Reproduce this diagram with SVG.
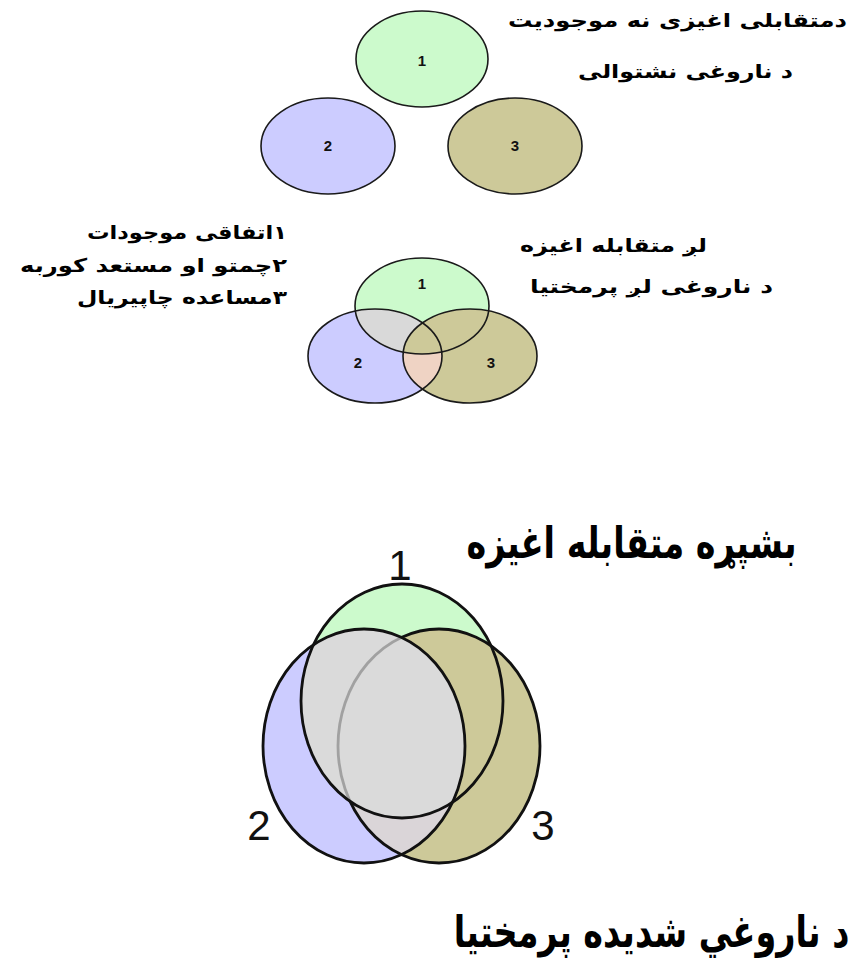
<svg xmlns="http://www.w3.org/2000/svg" width="858" height="966" viewBox="0 0 858 966">
<style>
.t{font-family:"DejaVu Sans",sans-serif;font-weight:bold;fill:#000;text-anchor:middle}
.s{font-size:19px}
.b{font-size:44px}
.n{font-family:"Liberation Sans",Arial,sans-serif;font-weight:bold;font-size:15px;fill:#111;text-anchor:middle}
.nb{font-family:"Liberation Sans",Arial,sans-serif;font-size:42px;fill:#111;text-anchor:middle}
.o1{fill:none;stroke:#1a1a1a;stroke-width:1.6}
.o3{fill:none;stroke:#111;stroke-width:2.8}
.g{fill:#ccfacc}.p{fill:#ccccff}.ol{fill:#cdc999}.gr{fill:#d9d9d9}
</style>
<defs>
<clipPath id="mc1"><ellipse cx="422" cy="306" rx="67" ry="48"/></clipPath>
<clipPath id="mc2"><ellipse cx="375" cy="356" rx="67" ry="47"/></clipPath>
<clipPath id="bg"><ellipse cx="402" cy="701" rx="101" ry="117"/></clipPath>
<clipPath id="bo"><ellipse cx="439" cy="746" rx="101" ry="117"/></clipPath>
</defs>
<rect width="858" height="966" fill="#fff"/>

<g id="top">
<g id="top-1"><ellipse cx="422" cy="59" rx="66" ry="48" class="g"/><ellipse cx="422" cy="59" rx="66" ry="48" class="o1"/><text x="422" y="66" class="n">1</text></g>
<g id="top-2"><ellipse cx="328" cy="146" rx="67" ry="48" class="p"/><ellipse cx="328" cy="146" rx="67" ry="48" class="o1"/><text x="328" y="151" class="n">2</text></g>
<g id="top-3"><ellipse cx="515" cy="146" rx="67" ry="48" class="ol"/><ellipse cx="515" cy="146" rx="67" ry="48" class="o1"/><text x="515" y="151" class="n">3</text></g>
</g>

<g id="middle">
<ellipse cx="375" cy="356" rx="67" ry="47" class="p"/>
<ellipse cx="470" cy="356" rx="67" ry="47" class="ol"/>
<ellipse cx="422" cy="306" rx="67" ry="48" class="g"/>
<ellipse cx="375" cy="356" rx="67" ry="47" class="gr" clip-path="url(#mc1)"/>
<ellipse cx="470" cy="356" rx="67" ry="47" fill="#efd3c4" clip-path="url(#mc2)"/>
<ellipse cx="470" cy="356" rx="67" ry="47" class="ol" clip-path="url(#mc1)"/>
<g id="mid-1"><ellipse cx="422" cy="306" rx="67" ry="48" class="o1"/><text x="422" y="289" class="n">1</text></g>
<g id="mid-2"><ellipse cx="375" cy="356" rx="67" ry="47" class="o1"/><text x="358" y="368" class="n">2</text></g>
<g id="mid-3"><ellipse cx="470" cy="356" rx="67" ry="47" class="o1"/><text x="491" y="368" class="n">3</text></g>
</g>

<g id="bottom">
<ellipse cx="364" cy="746" rx="101" ry="117" class="p"/>
<ellipse cx="439" cy="746" rx="101" ry="117" class="ol"/>
<ellipse cx="402" cy="701" rx="101" ry="117" class="g"/>
<ellipse cx="439" cy="746" rx="101" ry="117" class="ol" clip-path="url(#bg)"/>
<ellipse cx="364" cy="746" rx="101" ry="117" fill="#dad5d8" clip-path="url(#bo)"/>
<ellipse cx="364" cy="746" rx="101" ry="117" class="gr" clip-path="url(#bg)"/>
<g id="bot-3"><ellipse cx="439" cy="746" rx="101" ry="117" class="o3"/><text x="543" y="840" class="nb">3</text></g>
<ellipse cx="364" cy="746" rx="101" ry="117" class="gr" opacity="0.72" clip-path="url(#bg)"/>
<g id="bot-2"><ellipse cx="364" cy="746" rx="101" ry="117" class="o3"/><text x="259" y="840" class="nb">2</text></g>
<g id="bot-1"><ellipse cx="402" cy="701" rx="101" ry="117" class="o3"/><text x="400" y="580" class="nb">1</text></g>
</g>

<g id="labels">
<text x="677.5" y="27" class="t s" direction="rtl" textLength="339" lengthAdjust="spacingAndGlyphs">دمتقابلی اغیزی نه موجودیت</text>
<text x="685.5" y="78" class="t s" direction="rtl" textLength="215" lengthAdjust="spacingAndGlyphs">د ناروغی نشتوالی</text>
<text x="187" y="239" class="t s" direction="rtl" textLength="200" lengthAdjust="spacingAndGlyphs">۱اتفاقی موجودات</text>
<text x="153.5" y="272" class="t s" direction="rtl" textLength="267" lengthAdjust="spacingAndGlyphs">۲چمتو او مستعد کوربه</text>
<text x="182" y="304" class="t s" direction="rtl" textLength="210" lengthAdjust="spacingAndGlyphs">۳مساعده چاپیریال</text>
<text x="613.5" y="252" class="t s" direction="rtl" textLength="187" lengthAdjust="spacingAndGlyphs">لږ متقابله اغیزه</text>
<text x="651.5" y="293" class="t s" direction="rtl" textLength="243" lengthAdjust="spacingAndGlyphs">د ناروغی لږ پرمختیا</text>
<text transform="translate(631.5 558) scale(0.76 1)" class="t b" direction="rtl">بشپړه متقابله اغیزه</text>
<text transform="translate(651.5 947) scale(0.76 1)" class="t b" direction="rtl">د ناروغي شدیده پرمختیا</text>
</g>
</svg>
